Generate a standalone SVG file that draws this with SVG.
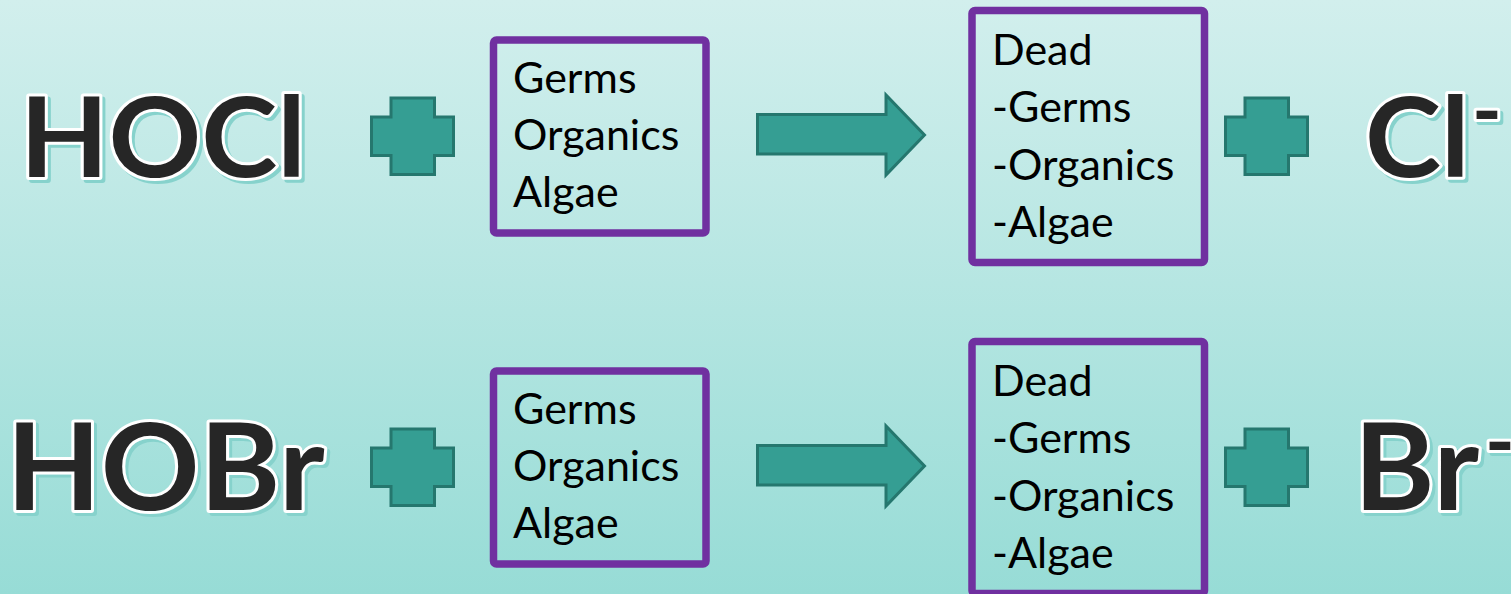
<svg xmlns="http://www.w3.org/2000/svg" width="1511" height="594" viewBox="0 0 1511 594">
<style>
.big{font-family:Lato,"Open Sans",sans-serif;font-weight:bold;}
.sh{fill:#86d2cc;stroke:#86d2cc;stroke-width:6;stroke-linejoin:round;}
.ol{fill:#262626;stroke:#ffffff;stroke-width:6;stroke-linejoin:round;paint-order:stroke;}
.box{fill:none;stroke:#7030a0;stroke-width:7.5;}
.t{font-family:Lato,"Open Sans",sans-serif;font-size:43px;fill:#000;}
.shape{fill:#359e93;stroke:#25776e;stroke-width:3;}
</style>
<defs>
<linearGradient id="bg" x1="0" y1="0" x2="0" y2="1">
<stop offset="0" stop-color="#d2efed"/>
<stop offset="1" stop-color="#97dcd6"/>
</linearGradient>
<path id="plus" d="M19.5 0 H63 V19 H82 V57.5 H63 V76.5 H19.5 V57.5 H0 V19 H19.5 Z"/>
<path id="arr" d="M0 19.5 H128.5 V0 L167 40 L128.5 80 V59 H0 Z"/>
</defs>
<rect width="1511" height="594" fill="url(#bg)"/>
<g id="connectors">
<use href="#plus" class="shape" x="371.5" y="98"/>
<use href="#arr" class="shape" x="757.5" y="95"/>
<use href="#plus" class="shape" x="1225.5" y="98"/>
<use href="#plus" class="shape" x="371.5" y="429"/>
<use href="#arr" class="shape" x="757.5" y="426"/>
<use href="#plus" class="shape" x="1225.5" y="429"/>
</g>
<g id="hocl" font-size="112">
<text class="big sh" transform="translate(23 180) scale(1.026 1)">HOCl</text>
<text class="big ol" transform="translate(20 177) scale(1.026 1)">HOCl</text>
</g>
<g id="box1">
<rect class="box" x="493.5" y="40" width="212.5" height="193" rx="3"/>
<text class="t" x="513" y="93">Germs</text>
<text class="t" x="513" y="150">Organics</text>
<text class="t" x="513" y="207">Algae</text>
</g>
<g id="box2">
<rect class="box" x="972" y="10.5" width="232.5" height="252" rx="3"/>
<text class="t" x="992" y="65">Dead</text>
<text class="t" x="992" y="122">-Germs</text>
<text class="t" x="992" y="180">-Organics</text>
<text class="t" x="992" y="237">-Algae</text>
</g>
<g id="cl" font-size="112">
<text class="big sh" transform="translate(1368 180) scale(1.026 1)">Cl</text>
<text class="big ol" transform="translate(1365 177) scale(1.026 1)">Cl</text>
<text class="big sh" font-size="80" x="1475" y="141.5">-</text>
<text class="big ol" font-size="80" x="1472" y="138.5">-</text>
</g>
<g id="hobr" font-size="120">
<text class="big sh" transform="translate(9.5 513) scale(1.02 1)">HOBr</text>
<text class="big ol" transform="translate(6.5 510) scale(1.02 1)">HOBr</text>
</g>
<g id="box3">
<rect class="box" x="493.5" y="371" width="212.5" height="193" rx="3"/>
<text class="t" x="513" y="424">Germs</text>
<text class="t" x="513" y="481">Organics</text>
<text class="t" x="513" y="538">Algae</text>
</g>
<g id="box4">
<rect class="box" x="972" y="341.5" width="232.5" height="252" rx="3"/>
<text class="t" x="992" y="396">Dead</text>
<text class="t" x="992" y="453">-Germs</text>
<text class="t" x="992" y="511">-Organics</text>
<text class="t" x="992" y="568">-Algae</text>
</g>
<g id="br" font-size="120">
<text class="big sh" transform="translate(1357 513) scale(1.02 1)">Br</text>
<text class="big ol" transform="translate(1354 510) scale(1.02 1)">Br</text>
<text class="big sh" font-size="80" x="1488" y="472.5">-</text>
<text class="big ol" font-size="80" x="1485" y="469.5">-</text>
</g>
</svg>
